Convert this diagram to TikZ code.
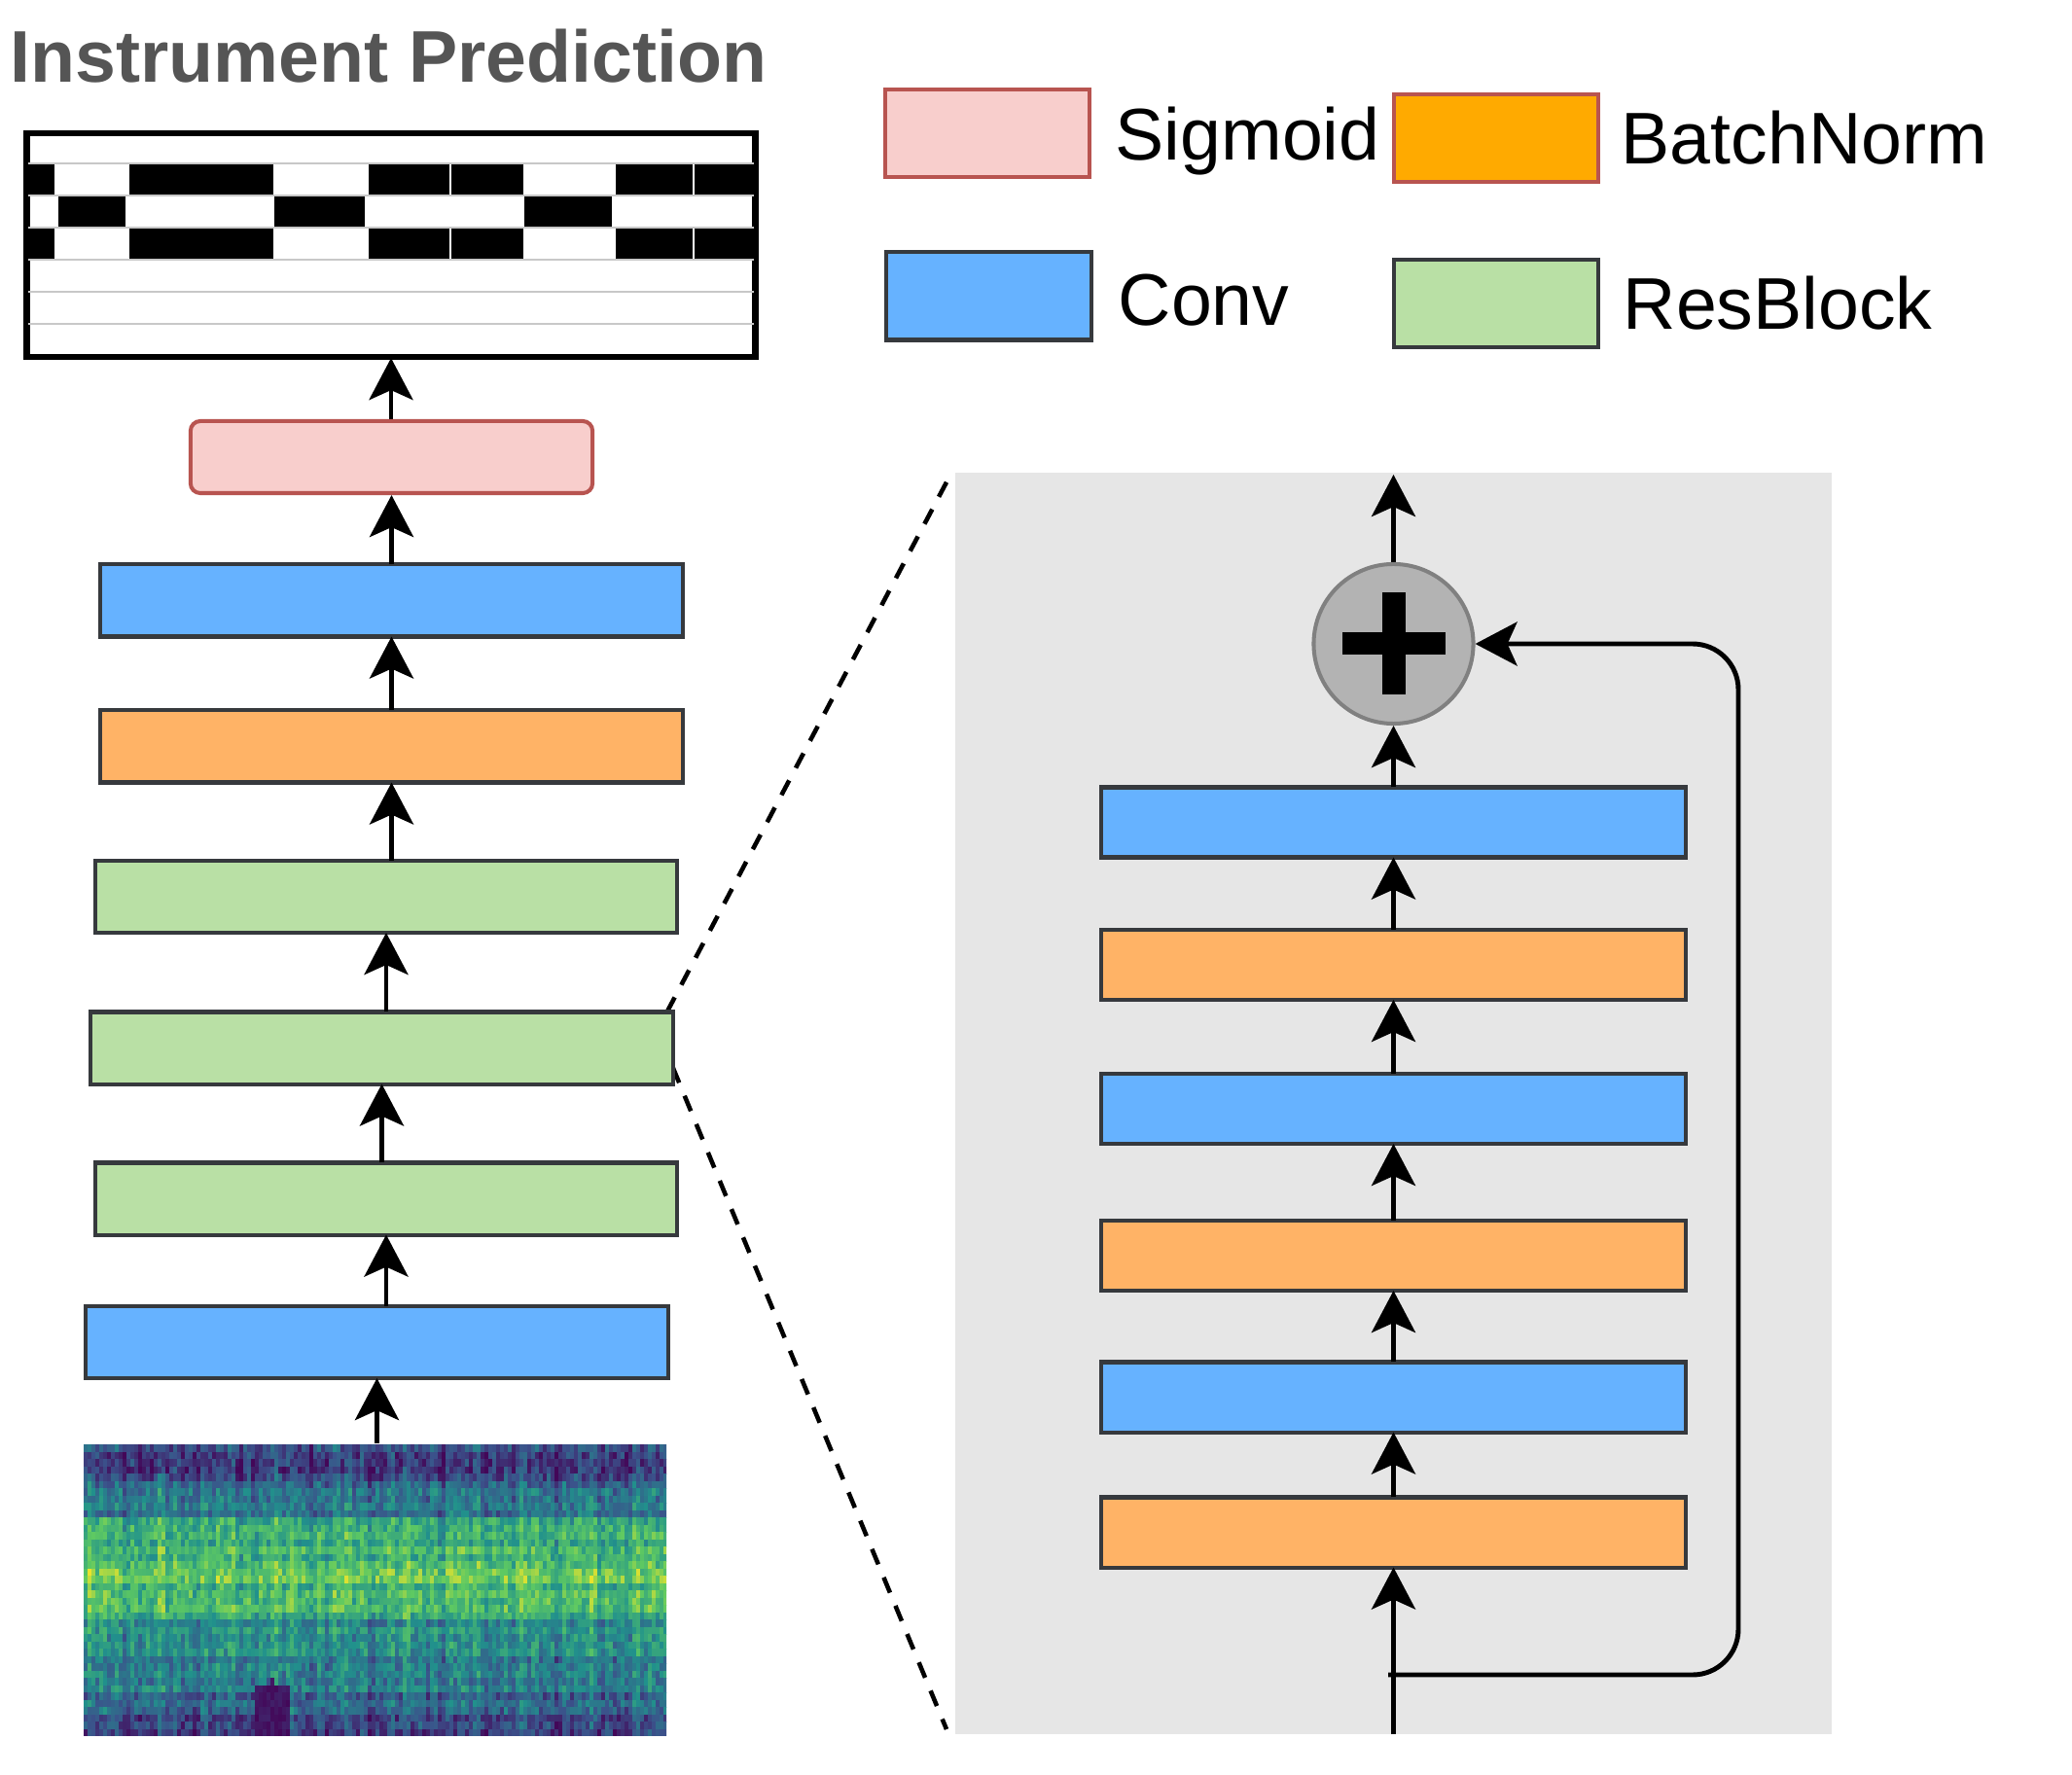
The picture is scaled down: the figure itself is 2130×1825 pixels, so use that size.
\documentclass[tikz,border=0pt]{standalone}
\usepackage{fontspec}
\setmainfont{Liberation Sans}
\usetikzlibrary{arrows.meta,calc}
\pgfdeclarelayer{bg}
\pgfsetlayers{bg,main}
\definecolor{sigfill}{HTML}{F8CECC}
\definecolor{sigstroke}{HTML}{B85450}
\definecolor{convfill}{HTML}{66B2FF}
\definecolor{bnfill}{HTML}{FFB366}
\definecolor{bnlegfill}{HTML}{FFAA00}
\definecolor{rbfill}{HTML}{B9E0A5}
\definecolor{darkstroke}{HTML}{36393D}
\definecolor{panelgray}{HTML}{E6E6E6}
\definecolor{plusfill}{HTML}{B3B3B3}
\definecolor{plusstroke}{HTML}{808080}
\definecolor{titlegray}{HTML}{555555}
\definecolor{gridgray}{HTML}{C8C8C8}
\definecolor{vir0}{RGB}{68,1,84}
\definecolor{vir1}{RGB}{59,82,139}
\definecolor{vir2}{RGB}{33,145,140}
\definecolor{vir3}{RGB}{94,201,98}
\definecolor{vir4}{RGB}{253,231,37}
\begin{document}
\begin{tikzpicture}[x=0.01cm,y=-0.01cm,
  blk/.style={draw=darkstroke, line width=1.15pt, inner sep=0, outer sep=0, minimum width=5.98cm, minimum height=0.74cm},
  rblk/.style={blk, minimum width=6.0cm, minimum height=0.72cm},
  convbox/.style={blk, fill=convfill},
  bnbox/.style={blk, fill=bnfill},
  rbbox/.style={blk, fill=rbfill},
  rconv/.style={rblk, fill=convfill},
  rbn/.style={rblk, fill=bnfill},
  legbox/.style={line width=1.15pt, inner sep=0, minimum width=2.1cm, minimum height=0.9cm},
  legtext/.style={anchor=base west, inner sep=0, font=\fontsize{21.4}{25}\selectfont},
  arr/.style={-{Stealth[length=0.43cm,width=0.45cm,inset=0.1cm]}, line width=1.4pt, black},
  zoomline/.style={line width=1.3pt, dash pattern=on 0.17cm off 0.145cm},
  block/.style={fill=black}
]
\useasboundingbox (0,0) rectangle (2130,1825);

% ---------- title ----------
\node[anchor=base west, inner sep=0, text=titlegray, font=\fontsize{21.4}{25}\selectfont\bfseries] (title) at (10,85) {Instrument Prediction};

% ---------- legend ----------
\node[legbox, draw=sigstroke, fill=sigfill] (lsig) at (1015,137) {};
\node[legtext] (tsig) at (1146,165) {Sigmoid};
\node[legbox, draw=sigstroke, fill=bnlegfill] (lbn) at (1538,142) {};
\node[legtext] (tbn) at (1666,169) {BatchNorm};
\node[legbox, draw=darkstroke, fill=convfill] (lconv) at (1016.5,304.5) {};
\node[legtext] (tconv) at (1149,335) {Conv};
\node[legbox, draw=darkstroke, fill=rbfill] (lrb) at (1538,312) {};
\node[legtext] (trb) at (1668,339) {ResBlock};

% ---------- piano roll ----------
\node[draw=black, fill=white, line width=1.3pt, inner sep=0, minimum width=7.455cm, minimum height=2.275cm] (piano) at (402,252) {};
\foreach \yy in {168,201,234,267,300,333}
  \draw[gridgray, line width=0.6pt] (29,\yy) -- (775,\yy);
\foreach \a/\b in {29/56,133/281,379/462,464/538,633/712,714/775}{
  \fill[block] (\a,169) rectangle (\b,200);
  \fill[block] (\a,235) rectangle (\b,266);
}
\foreach \a/\b in {60/129,282/375,539/629}
  \fill[block] (\a,202) rectangle (\b,233);
\draw[black, line width=1.3pt] (piano.south west) rectangle (piano.north east);

% ---------- left column ----------
\node[draw=sigstroke, fill=sigfill, line width=1.15pt, rounded corners=0.1cm, inner sep=0, minimum width=4.13cm, minimum height=0.74cm] (sig) at (402.5,470) {};
\node[convbox] (convT) at (402.5,617.5) {};
\node[bnbox] (bnL) at (402.5,767.5) {};
\node[rbbox] (rb1) at (397,922) {};
\node[rbbox] (rb2) at (392.5,1077.5) {};
\node[rbbox] (rb3) at (397,1232.5) {};
\node[convbox] (convB) at (387.5,1380) {};
\node[inner sep=0, minimum width=5.99cm, minimum height=2.99cm] (spec) at (385.5,1634.5) {};

% spectrogram (viridis-like texture)
\begin{scope}
\clip (86,1485) rectangle (685,1784);
\pgfmathsetseed{11}
\foreach \j in {0,...,39}{
  \pgfmathsetmacro\t{(\j+0.5)/40}
  \pgfmathsetmacro\base{0.22+0.5*exp(-((\t-0.45)/0.22)^2)+0.15*exp(-((\t-0.8)/0.15)^2)+0.1*exp(-((\t-0.28)/0.025)^2)}
  \pgfmathsetmacro\roff{0.2*(rnd-0.5)}
  \foreach \i in {0,...,149}{
    \pgfmathsetmacro\cn{0.06*sin(\i*97.3)+0.04*sin(\i*23.1)+0.03*sin(\i*61.7)}
    \pgfmathsetmacro\v{max(0.02,min(0.97,\base+\roff+\cn+0.26*(rnd-0.5)))}
    \pgfmathsetmacro\dk{(\i>43 && \i<53 && \t>0.84-0.006*min(\i-43,53-\i)) ? 1 : 0}
    \pgfmathsetmacro\v{\dk>0.5 ? 0.02+0.08*rnd : \v}
    \pgfmathsetmacro\s{\v*4}
    \pgfmathtruncatemacro\k{floor(\s)}
    \pgfmathtruncatemacro\kn{\k+1}
    \pgfmathtruncatemacro\p{100*(\s-\k)}
    \fill[vir\kn!\p!vir\k] (86+4*\i,1485+7.5*\j) rectangle ++(4.5,8);
  }
}
\end{scope}

\draw[arr] (spec.north -| convB.south) -- (convB.south);
\draw[arr] (convB.north -| rb3.south) -- (rb3.south);
\draw[arr] (rb3.north -| rb2.south) -- (rb2.south);
\draw[arr] (rb2.north -| rb1.south) -- (rb1.south);
\draw[arr] (rb1.north -| bnL.south) -- (bnL.south);
\draw[arr] (bnL.north -| convT.south) -- (convT.south);
\draw[arr] (convT.north -| sig.south) -- (sig.south);
\draw[arr] (sig.north -| piano.south) -- (piano.south);

% ---------- zoom panel ----------
\coordinate (dU) at (975,492);
\coordinate (dL) at (973,1778);
\begin{pgfonlayer}{bg}
\fill[panelgray] (982,486) rectangle (1883,1783);
\draw[zoomline] ([xshift=-0.06cm]rb2.north east) -- (dU);
\draw[zoomline] ([yshift=-0.2cm]rb2.east) -- (dL);
\end{pgfonlayer}

\node[rconv] (convR1) at (1432.5,845.5) {};
\node[rbn] (bnR1) at (1432.5,992) {};
\node[rconv] (convR2) at (1432.5,1140) {};
\node[rbn] (bnR2) at (1432.5,1291) {};
\node[rconv] (convR3) at (1432.5,1436.5) {};
\node[rbn] (bnR3) at (1432.5,1575.5) {};
\node[circle, draw=plusstroke, fill=plusfill, line width=1.15pt, minimum size=1.64cm, inner sep=0] (plus) at (1432.5,662) {};
\fill[black] ($(plus.center)+(-12,-52.5)$) rectangle ($(plus.center)+(12,52.5)$);
\fill[black] ($(plus.center)+(-53,-11.5)$) rectangle ($(plus.center)+(53,11.5)$);

\coordinate (inR) at (1432.5,1783);
\coordinate (outR) at (1432.5,488);
\coordinate (skipS) at (1427,1722);
\coordinate (c1) at (1787,1722);
\coordinate (c2) at (1787,662);

\draw[arr] (inR) -- (bnR3.south);
\draw[arr] (bnR3.north) -- (convR3.south);
\draw[arr] (convR3.north) -- (bnR2.south);
\draw[arr] (bnR2.north) -- (convR2.south);
\draw[arr] (convR2.north) -- (bnR1.south);
\draw[arr] (bnR1.north) -- (convR1.south);
\draw[arr] (convR1.north) -- (plus.south);
\draw[arr] (plus.north) -- (outR);
\draw[arr, rounded corners=0.47cm] (skipS) -- (c1) -- (c2) -- (plus.east);
\end{tikzpicture}
\end{document}
